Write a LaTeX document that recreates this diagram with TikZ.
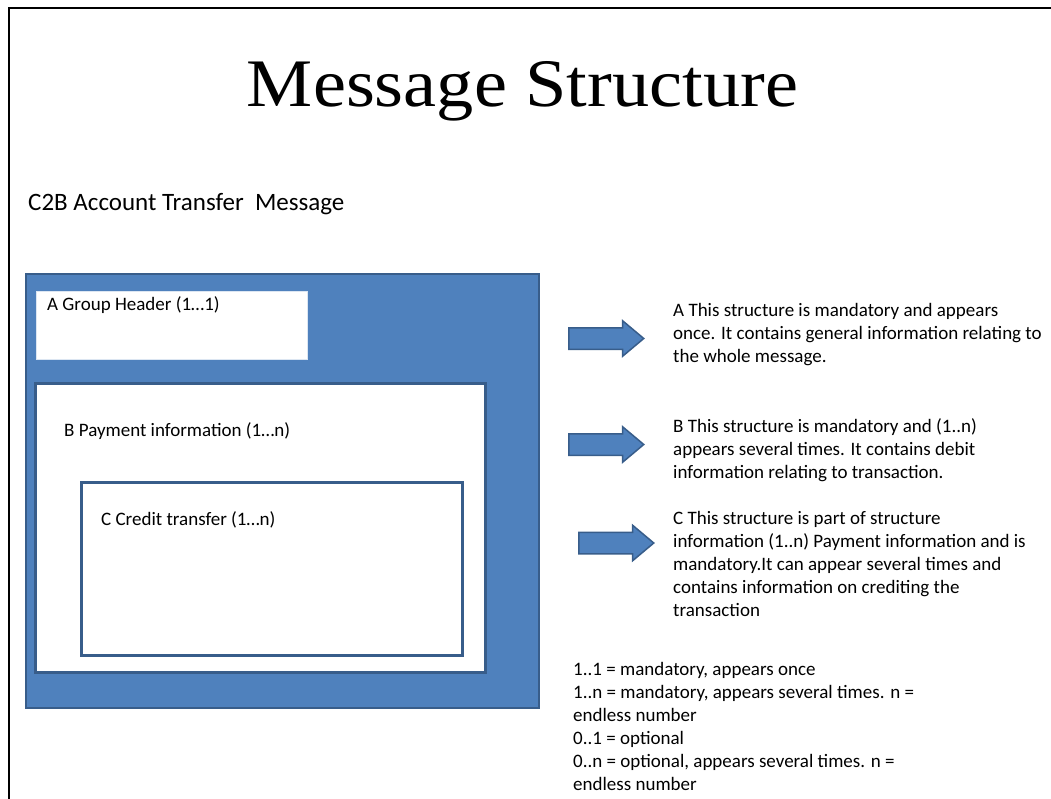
\documentclass[tikz,border=0pt]{standalone}
\usepackage{fontspec}
\setmainfont{Carlito}
\newfontfamily\titlefont{Liberation Serif}
\usetikzlibrary{shapes.arrows}
\definecolor{boxblue}{HTML}{4F81BD}
\definecolor{boxedge}{HTML}{385D8A}
\definecolor{lightedge}{HTML}{DCE6F2}
\tikzset{
  bluebox/.style={draw=boxedge, fill=boxblue, line width=2pt, inner sep=0pt},
  whitebox/.style={draw=boxedge, fill=white, line width=2.5pt, inner sep=0pt},
  headbox/.style={draw=lightedge, fill=white, line width=1pt, inner sep=0pt},
  bluearrow/.style={single arrow, draw=boxedge, fill=boxblue, line width=1.5pt,
    minimum height=75pt, inner xsep=0pt, inner ysep=10pt, single arrow head extend=7pt,
    single arrow tip angle=80, anchor=tail},
  label/.style={inner sep=0pt, anchor=base west, font=\fontsize{19}{23}\selectfont},
  desc/.style={inner sep=0pt, anchor=base west, align=left, font=\fontsize{19}{23}\selectfont},
  frame/.style={line width=2.5pt, black}
}
\begin{document}
\begin{tikzpicture}[x=1pt,y=-1pt]
\useasboundingbox (0,0) rectangle (1051,799);
% outer frame
\coordinate (f0) at (9,8);
\coordinate (f1) at (1055,8);
\coordinate (f2) at (9,803);
\draw[frame] (f1) -- (f0) -- (f2);
% title
\node[inner sep=0pt, anchor=base] (title) at (522.5,107)
  {\titlefont\fontsize{68}{80}\selectfont\scalebox{1.093}[1]{Message Structure}};
\node[inner sep=0pt, anchor=base west, font=\fontsize{25}{30}\selectfont] (sub) at (28,211)
  {C2B Account Transfer\ \ Message};
% boxes
\node[bluebox, anchor=north west, minimum width=513pt, minimum height=434pt] (outer) at (25,273) {};
\node[headbox, anchor=north west, minimum width=271pt, minimum height=68pt] (boxA) at (36,291) {};
\node[whitebox, anchor=north west, minimum width=450pt, minimum height=289pt] (boxB) at (34,382) {};
\node[whitebox, anchor=north west, minimum width=381pt, minimum height=173pt] (boxC) at (80,481) {};
\node[label] (labA) at (47,311) {A Group Header (1…1)};
\node[label] (labB) at (64,436) {B Payment information (1…n)};
\node[label] (labC) at (101,525) {C Credit transfer (1…n)};
% arrows
\node[bluearrow] (arrA) at (568,338.5) {};
\node[bluearrow] (arrB) at (568,444.5) {};
\node[bluearrow] (arrC) at (578,543) {};
% descriptions (base anchor = baseline of the last line)
\node[desc] (descA) at (673,362) {A This structure is mandatory and appears\\once. It contains general information relating to\\the whole message.};
\node[desc] (descB) at (673,478) {B This structure is mandatory and (1..n)\\appears several times. It contains debit\\information relating to transaction.};
\node[desc] (descC) at (673,616) {C This structure is part of structure\\information (1..n) Payment information and is\\mandatory.It can appear several times and\\contains information on crediting the\\transaction};
\node[desc] (legend) at (573,790) {1..1 = mandatory, appears once\\1..n = mandatory, appears several times. n =\\endless number\\0..1 = optional\\0..n = optional, appears several times. n =\\endless number};
\end{tikzpicture}
\end{document}
